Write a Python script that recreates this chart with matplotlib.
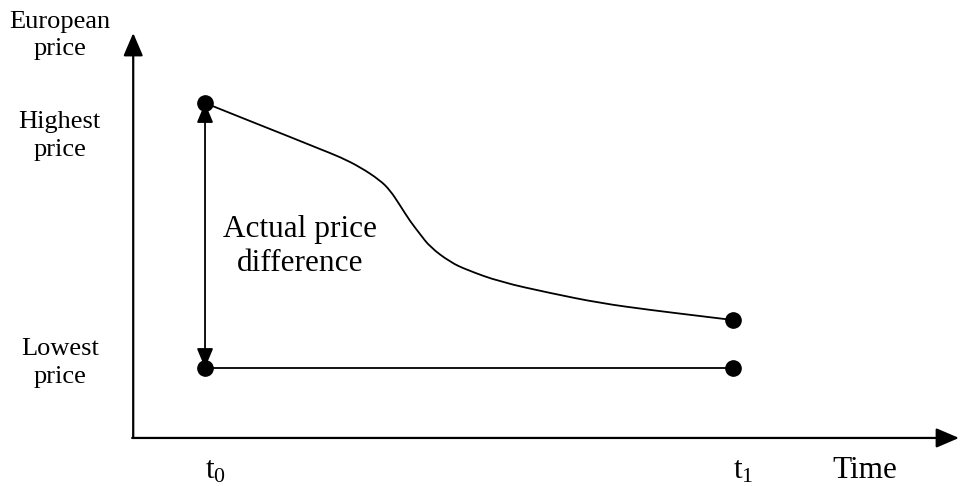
import matplotlib
matplotlib.use("Agg")
import matplotlib.pyplot as plt
from matplotlib.path import Path
from matplotlib.patches import PathPatch

plt.rcParams['font.family'] = ['Liberation Serif', 'DejaVu Serif']
plt.rcParams['mathtext.fontset'] = 'custom'
plt.rcParams['mathtext.rm'] = 'Liberation Serif'
plt.rcParams['mathtext.it'] = 'Liberation Serif'

# ---- data (time: t0=0, t1=1; price: lowest=0, highest=1) ----
time_points = [0.0, 1.0]
time_labels = [r"$\mathregular{t_0}$", r"$\mathregular{t_1}$"]
price_labels = ["Highest\nprice", "Lowest\nprice"]
price_levels = [1.0, 0.0]
highest_price = 1.0
lowest_price = 0.0

curve_time = [0.0, 0.085, 0.161, 0.218, 0.256, 0.294, 0.331, 0.350, 0.369,
              0.388, 0.407, 0.426, 0.464, 0.496, 0.559, 0.653, 0.748, 0.843,
              0.938, 1.0]
curve_price = [1.0, 0.932, 0.872, 0.826, 0.796, 0.758, 0.709, 0.672, 0.615,
               0.555, 0.506, 0.457, 0.400, 0.370, 0.325, 0.283, 0.245, 0.219,
               0.196, 0.181]

low_time = [0.0, 1.0]
low_price = [0.0, 0.0]

# ---- figure ----
fig = plt.figure(figsize=(9.62, 4.86), dpi=100)
ax = fig.add_axes([0, 0, 1, 1])
ax.set_xlim(-0.3883, 1.4337)
ax.set_ylim(-0.4453, 1.3887)
ax.axis('off')

x_origin, y_origin = -0.136, -0.264
x_tip, y_tip = 1.428, 1.264

# axes arrows
ax.annotate('', xy=(x_origin, y_tip), xytext=(x_origin, y_origin),
            arrowprops=dict(arrowstyle='-|>,head_length=0.7,head_width=0.3',
                            lw=1.6, color='black', mutation_scale=20,
                            shrinkA=0, shrinkB=0))
ax.annotate('', xy=(x_tip, y_origin), xytext=(x_origin - 0.002, y_origin),
            arrowprops=dict(arrowstyle='-|>,head_length=0.7,head_width=0.3',
                            lw=1.6, color='black', mutation_scale=20,
                            shrinkA=0, shrinkB=0))

# price difference double arrow
ax.annotate('', xy=(time_points[0], highest_price), xytext=(time_points[0], lowest_price),
            arrowprops=dict(arrowstyle='<|-|>,head_length=0.6,head_width=0.25',
                            lw=1.3, color='black', mutation_scale=20,
                            shrinkA=0, shrinkB=0))

# smooth curve: quadratic Bezier path through midpoints, data points as controls
pts = list(zip(curve_time, curve_price))
verts = [pts[0]]
codes = [Path.MOVETO]
for i in range(1, len(pts) - 1):
    mid = ((pts[i][0] + pts[i + 1][0]) / 2, (pts[i][1] + pts[i + 1][1]) / 2)
    if i == len(pts) - 2:
        mid = pts[i + 1]
    verts += [pts[i], mid]
    codes += [Path.CURVE3, Path.CURVE3]
ax.add_patch(PathPatch(Path(verts, codes), facecolor='none', edgecolor='black',
                       lw=1.3, capstyle='round', joinstyle='round'))

ax.plot(low_time, low_price, color='black', lw=1.3)

# dots
ax.plot([curve_time[0], curve_time[-1]], [curve_price[0], curve_price[-1]], 'o',
        color='black', ms=11, zorder=5)
ax.plot(low_time, low_price, 'o', color='black', ms=11, zorder=5)

# text labels
ax.text(-0.275, 1.255, "European\nprice", ha='center', va='center', fontsize=19,
        linespacing=1.3)
for lab, lev, dy in zip(price_labels, price_levels, [-0.125, 0.019]):
    ax.text(-0.275, lev + dy, lab, ha='center', va='center', fontsize=19,
            linespacing=1.35)
ax.text(0.18, 0.457, "Actual price\ndifference", ha='center', va='center',
        fontsize=22.5, linespacing=1.22)

for t, lab in zip(time_points, time_labels):
    ax.text(t + 0.02, -0.388, lab, ha='center', va='center', fontsize=22.5)
ax.text(1.25, -0.388, "Time", ha='center', va='center', fontsize=22.5)

fig.savefig("out.png", dpi=100)
